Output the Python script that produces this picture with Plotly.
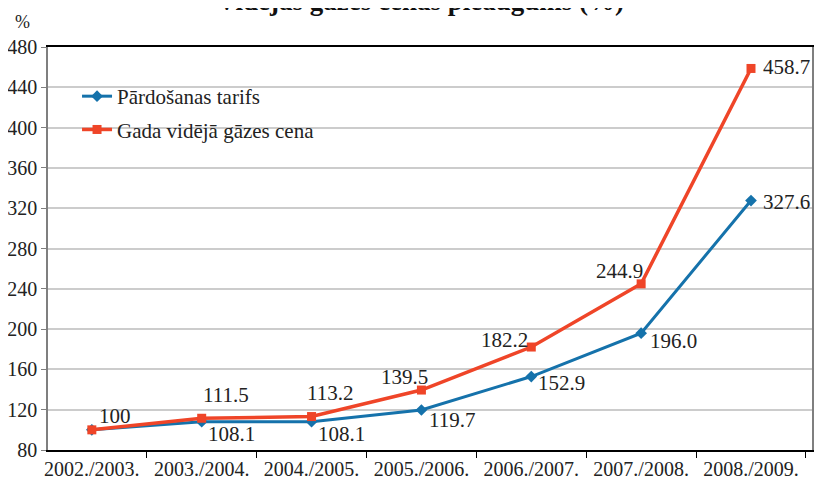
import plotly.graph_objects as go

categories = ["2002./2003.", "2003./2004.", "2004./2005.", "2005./2006.",
              "2006./2007.", "2007./2008.", "2008./2009."]
tarifs = [100, 108.1, 108.1, 119.7, 152.9, 196.0, 327.6]
tarifs_labels = ["", "108.1", "108.1", "119.7", "152.9", "196.0", "327.6"]
cena = [100, 111.5, 113.2, 139.5, 182.2, 244.9, 458.7]
cena_labels = ["100", "111.5", "113.2", "139.5", "182.2", "244.9", "458.7"]
y_ticks = [80, 120, 160, 200, 240, 280, 320, 360, 400, 440, 480]

BLUE = "#1572AB"
RED = "#EF4528"
FONT = "Liberation Serif"
TXT = "#222222"

fig = go.Figure()
fig.add_trace(go.Scatter(
    x=categories, y=tarifs, name="Pārdošanas tarifs", mode="lines+markers",
    line=dict(color=BLUE, width=3), marker=dict(symbol="diamond", size=9, color=BLUE),
    legendgroup="a"))
fig.add_trace(go.Scatter(
    x=categories, y=cena, name="Gada vidējā gāzes cena", mode="lines+markers",
    line=dict(color=RED, width=3.5), marker=dict(symbol="square", size=9, color=RED),
    legendgroup="b"))

red_off = [(23, 14, "center"), (24, 23, "center"), (18, 24, "center"), (-17, 13, "center"),
           (-27, 7, "center"), (-22, 13, "center"), (10, 1, "left")]
blue_off = [(0, 0, "center"), (30, -12, "center"), (30, -12, "center"), (31, -10, "center"),
            (30, -6, "center"), (32, -8, "center"), (10, -1, "left")]

for i, c in enumerate(categories):
    dx, dy, anc = red_off[i]
    fig.add_annotation(x=c, y=cena[i], text=cena_labels[i], showarrow=False,
                       xanchor=anc, yanchor="middle", xshift=dx, yshift=dy,
                       font=dict(family=FONT, size=21, color=TXT))
    if tarifs_labels[i]:
        dx, dy, anc = blue_off[i]
        fig.add_annotation(x=c, y=tarifs[i], text=tarifs_labels[i], showarrow=False,
                           xanchor=anc, yanchor="middle", xshift=dx, yshift=dy,
                           font=dict(family=FONT, size=21, color=TXT))

fig.add_annotation(text="<b>Vidējās gāzes cenas pieaugums (%)</b>", xref="paper", yref="paper",
                   x=0.487, y=1, xanchor="center", yanchor="bottom", yshift=29,
                   showarrow=False, font=dict(family=FONT, size=27, color="#111"))
fig.add_annotation(text="%", xref="paper", yref="paper", x=0, y=1, xanchor="right",
                   yanchor="bottom", xshift=-16, yshift=13, showarrow=False,
                   font=dict(family=FONT, size=18, color=TXT))

fig.update_layout(
    width=817, height=472,
    margin=dict(l=40, r=13, t=39, b=30, autoexpand=False),
    paper_bgcolor="white", plot_bgcolor="white",
    font=dict(family=FONT, size=20, color=TXT),
    showlegend=True,
    legend=dict(x=0.038, y=0.928, xanchor="left", yanchor="top",
                bgcolor="rgba(0,0,0,0)", tracegroupgap=3,
                font=dict(family=FONT, size=21, color=TXT)),
    xaxis=dict(type="category", showgrid=False, showline=True, linecolor="black",
               linewidth=1.5, mirror=True, ticks="outside", tickson="boundaries",
               ticklen=6, tickcolor="black", automargin=False,
               tickfont=dict(family=FONT, size=20, color=TXT)),
    yaxis=dict(range=[80, 480], tickvals=y_ticks, showgrid=True, gridcolor="#cccccc",
               gridwidth=1.5, showline=True, linecolor="#7f7f7f", linewidth=1.5,
               mirror=True, ticks="outside", ticklen=5, tickcolor="#7f7f7f",
               zeroline=False, automargin=False,
               tickfont=dict(family=FONT, size=20, color=TXT)),
)

fig.write_html("out.html")
